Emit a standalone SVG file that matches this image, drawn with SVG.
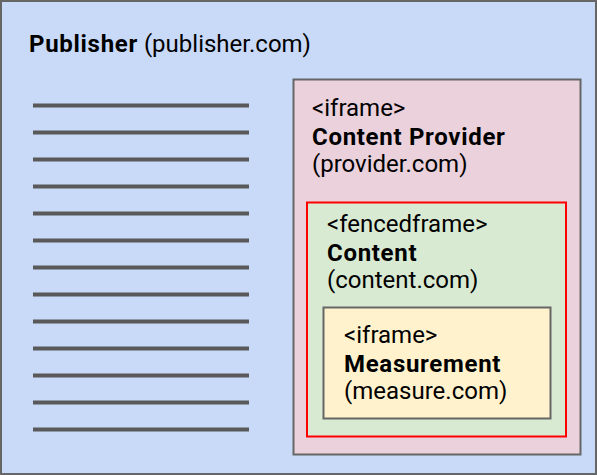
<svg xmlns="http://www.w3.org/2000/svg" width="597" height="475" viewBox="0 0 597 475">
<style>
text{font-family:Roboto,"Liberation Sans",sans-serif;font-size:24px;fill:#000}
.b{font-weight:bold;letter-spacing:0.7px}
.box{stroke:#666;stroke-width:2}
.ln{stroke:#595959;stroke-width:4}
</style>
<g id="publisher">
<rect class="box" x="1" y="1" width="595" height="473" fill="#c9daf8"/>
<text x="29" y="52"><tspan class="b">Publisher</tspan> (publisher.com)</text>
<g id="article-lines">
<line class="ln" x1="33" y1="105.5" x2="249" y2="105.5"/>
<line class="ln" x1="33" y1="132.5" x2="249" y2="132.5"/>
<line class="ln" x1="33" y1="159.5" x2="249" y2="159.5"/>
<line class="ln" x1="33" y1="186.5" x2="249" y2="186.5"/>
<line class="ln" x1="33" y1="213.5" x2="249" y2="213.5"/>
<line class="ln" x1="33" y1="240.5" x2="249" y2="240.5"/>
<line class="ln" x1="33" y1="267.5" x2="249" y2="267.5"/>
<line class="ln" x1="33" y1="294.5" x2="249" y2="294.5"/>
<line class="ln" x1="33" y1="321.5" x2="249" y2="321.5"/>
<line class="ln" x1="33" y1="348.5" x2="249" y2="348.5"/>
<line class="ln" x1="33" y1="375.5" x2="249" y2="375.5"/>
<line class="ln" x1="33" y1="402.5" x2="249" y2="402.5"/>
<line class="ln" x1="33" y1="429.5" x2="249" y2="429.5"/>
</g>
</g>
<g id="provider">
<rect class="box" x="293.5" y="79.5" width="287" height="375" fill="#ead1dc"/>
<text x="312" y="116">&lt;iframe&gt;</text>
<text x="312" y="145" class="b">Content Provider</text>
<text x="312" y="172">(provider.com)</text>
</g>
<g id="content">
<rect x="307" y="202.5" width="259" height="234" fill="#d9ead3" stroke="#ff0000" stroke-width="2"/>
<text x="327" y="232">&lt;fencedframe&gt;</text>
<text x="327" y="261" class="b">Content</text>
<text x="327" y="288">(content.com)</text>
</g>
<g id="measurement">
<rect class="box" x="323.5" y="307.5" width="227" height="111" fill="#fff2cc"/>
<text x="344" y="343">&lt;iframe&gt;</text>
<text x="344" y="372" class="b">Measurement</text>
<text x="344" y="399">(measure.com)</text>
</g>
<g id="connectors"/>
</svg>
